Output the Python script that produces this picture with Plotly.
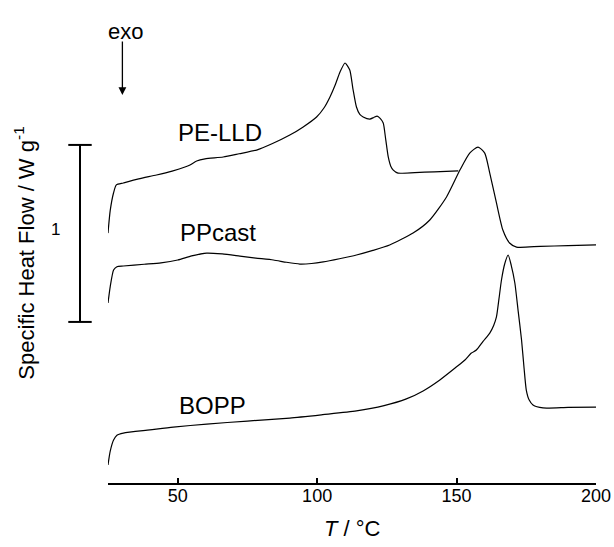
import plotly.graph_objects as go

# Temperatures (°C) and specific heat flow (W/g, offset curves)
pe_T = [25.0, 25.8, 27.0, 28.0, 30.5, 36, 42.4, 48, 52.6, 54.4, 56.8, 59.8, 66.3, 72, 78.3, 84, 90.2, 95,
        99.8, 102.5, 104.6, 106.5, 108.2, 110.0, 111.7, 112.8, 114.1, 115.3, 116.5, 118.9, 120.3, 121.5,
        122.6, 123.7, 124.6, 125.5, 126.4, 127.3, 129.0, 135, 142, 150.6]
pe_V = [1.412, 1.540, 1.640, 1.684, 1.695, 1.718, 1.740, 1.762, 1.785, 1.797, 1.819, 1.831, 1.842, 1.860,
        1.881, 1.918, 1.966, 2.012, 2.068, 2.120, 2.181, 2.250, 2.322, 2.373, 2.333, 2.230, 2.124, 2.082,
        2.068, 2.056, 2.065, 2.073, 2.060, 2.034, 1.940, 1.842, 1.790, 1.768, 1.751, 1.754, 1.758, 1.763]

pp_T = [25.0, 25.8, 27.0, 28.2, 30.5, 38, 44, 50, 55, 60.4, 66, 72.3, 78, 84.3, 89, 93.8, 98, 102.2, 108,
        114.1, 120, 126.0, 134.4, 140.4, 146.4, 151.2, 154.7, 157.7, 160.1, 161.9, 164.3, 166.6, 169.0,
        171.5, 180, 190, 200]
pp_V = [1.017, 1.110, 1.203, 1.222, 1.226, 1.236, 1.244, 1.260, 1.283, 1.299, 1.294, 1.282, 1.271, 1.260,
        1.247, 1.237, 1.240, 1.249, 1.267, 1.288, 1.314, 1.345, 1.412, 1.486, 1.616, 1.768, 1.864, 1.898,
        1.864, 1.751, 1.582, 1.429, 1.356, 1.333, 1.337, 1.341, 1.345]

bo_T = [25.0, 25.8, 27.0, 28.2, 30.5, 40, 48.4, 60.4, 75, 90.2, 102, 114.1, 124, 132.0, 138, 144.0, 149.9,
        153.0, 155.3, 157.1, 159.5, 161.9, 163.3, 164.3, 165.2, 166.1, 167.3, 168.5, 169.6, 170.9, 172.1,
        173.3, 174.2, 175.0, 176.0, 177.4, 181.0, 190, 200]
bo_V = [0.102, 0.180, 0.243, 0.270, 0.282, 0.300, 0.316, 0.333, 0.350, 0.367, 0.386, 0.407, 0.437, 0.475,
        0.520, 0.582, 0.655, 0.695, 0.734, 0.751, 0.800, 0.847, 0.890, 0.938, 1.040, 1.147, 1.240, 1.288,
        1.230, 1.130, 0.970, 0.808, 0.650, 0.525, 0.470, 0.441, 0.424, 0.427, 0.429]

labels = ["PE-LLD", "PPcast", "BOPP"]
label_T = [65.0, 64.4, 62.4]
label_V = [1.980, 1.418, 0.440]

x_ticks = [50, 100, 150, 200]
scale_bar = [0.91, 1.91]  # 1 W/g

FONT = "Liberation Sans, Arial, sans-serif"

fig = go.Figure()
for T, V in [(pe_T, pe_V), (pp_T, pp_V), (bo_T, bo_V)]:
    fig.add_trace(go.Scatter(x=T, y=V, mode="lines",
                             line=dict(color="black", width=1.2, shape="spline", smoothing=0.6),
                             showlegend=False, hoverinfo="skip"))

for lab, t, v in zip(labels, label_T, label_V):
    fig.add_annotation(x=t, y=v, xref="x", yref="y", text=lab, showarrow=False,
                       xanchor="center", font=dict(family=FONT, size=24, color="black"))

# scale bar
bx = -0.0574
cap = 0.024
fig.add_shape(type="line", xref="paper", yref="y", x0=bx, x1=bx, y0=scale_bar[0], y1=scale_bar[1],
              line=dict(color="black", width=2))
for yv in scale_bar:
    fig.add_shape(type="line", xref="paper", yref="y", x0=bx - cap, x1=bx + cap, y0=yv, y1=yv,
                  line=dict(color="black", width=2))
fig.add_annotation(x=-0.107, y=sum(scale_bar) / 2 + 0.02, xref="paper", yref="y", text="1",
                   xanchor="center", showarrow=False, font=dict(family=FONT, size=17, color="black"))

# exo arrow
fig.add_annotation(x=0.0295, y=1 - 95 / 483, xref="paper", yref="paper", ax=0, ay=-55,
                   axref="pixel", ayref="pixel", text="", showarrow=True, arrowhead=2, arrowsize=1.2,
                   arrowwidth=1.3, arrowcolor="black")
fig.add_annotation(x=0.035, y=1 - 17 / 483, xref="paper", yref="paper", text="exo", showarrow=False,
                   xanchor="center", font=dict(family=FONT, size=22, color="black"))

# axis titles
fig.add_annotation(x=-0.172, y=0.475, xref="paper", yref="paper", text="Specific Heat Flow / W g<sup>-1</sup>",
                   xanchor="center", yanchor="middle", textangle=-90, showarrow=False,
                   font=dict(family=FONT, size=22, color="black"))
fig.add_annotation(x=0.5, y=-45 / 483, xref="paper", yref="paper", text="<i>T</i> / °C",
                   xanchor="center", showarrow=False, yanchor="middle",
                   font=dict(family=FONT, size=22, color="black"))

fig.update_layout(
    width=614, height=547,
    margin=dict(l=108, r=18, t=0, b=64),
    paper_bgcolor="white", plot_bgcolor="white",
    xaxis=dict(range=[25, 200], tickvals=x_ticks, ticks="inside", ticklen=5, tickwidth=1.5,
               tickcolor="black", showline=True, linecolor="black", linewidth=2, showgrid=False,
               zeroline=False, ticklabelstandoff=-5,
               tickfont=dict(family=FONT, size=18, color="black")),
    yaxis=dict(range=[0, 483 / 177], visible=False, showgrid=False, zeroline=False),
)

fig.write_html("out.html", config={"displayModeBar": False},
               post_script="document.body.style.margin='0';document.body.style.padding='0';")
